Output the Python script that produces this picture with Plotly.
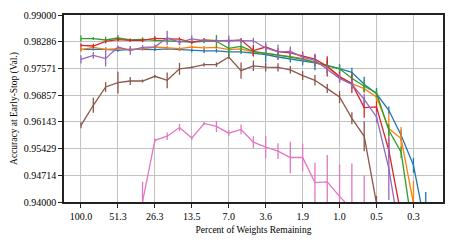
import plotly.graph_objects as go

# Tick labels (x = pruning round index; label = percent of weights remaining)
x_tick_pos = [0, 3, 6, 9, 12, 15, 18, 21, 24, 27]
x_tick_labels = ["100.0", "51.3", "26.3", "13.5", "7.0", "3.6", "1.9", "1.0", "0.5", "0.3"]
y_tick_labels = ["0.94000", "0.94714", "0.95429", "0.96143", "0.96857", "0.97571", "0.98286", "0.99000"]

blue = [0.98083, 0.98083, 0.98083, 0.98056, 0.98083, 0.98083, 0.98075, 0.98096, 0.98075, 0.98056,
        0.98043, 0.98043, 0.98016, 0.98016, 0.97989, 0.97944, 0.97877, 0.97821, 0.97775, 0.97722,
        0.97642, 0.97567, 0.97468, 0.97147, 0.96893, 0.96452, 0.95783, 0.94981, 0.93300]
blue_err = [0.0004, 0.0003, 0.0005, 0.0004, 0.0004, 0.0003, 0.0004, 0.0003, 0.0004, 0.0005,
            0.0006, 0.0005, 0.0012, 0.0006, 0.0008, 0.0020, 0.0008, 0.0009, 0.0012, 0.0020,
            0.0020, 0.0012, 0.0012, 0.0020, 0.0015, 0.0010, 0.0015, 0.0020, 0.0097]

orange = [0.98075, 0.98136, 0.98083, 0.98102, 0.98083, 0.98096, 0.98144, 0.98128, 0.98102, 0.98144,
          0.98123, 0.98136, 0.98075, 0.98096, 0.98011, 0.97976, 0.97936, 0.97896, 0.97842, 0.97735,
          0.97610, 0.97342, 0.97166, 0.97032, 0.96808, 0.95963, 0.95695, 0.93965]
orange_err = [0.0006, 0.0005, 0.0004, 0.0004, 0.0005, 0.0004, 0.0004, 0.0005, 0.0005, 0.0004,
              0.0005, 0.0004, 0.0006, 0.0005, 0.0008, 0.0007, 0.0008, 0.0008, 0.0009, 0.0010,
              0.0012, 0.0012, 0.0014, 0.0012, 0.0015, 0.0040, 0.0031, 0.0060]

green = [0.98369, 0.98369, 0.98332, 0.98385, 0.98332, 0.98350, 0.98324, 0.98305, 0.98278, 0.98278,
         0.98297, 0.98297, 0.98110, 0.98163, 0.98029, 0.97981, 0.97941, 0.97877, 0.97816, 0.97743,
         0.97655, 0.97561, 0.97307, 0.97094, 0.96914, 0.95917, 0.95329, 0.93110]
green_err = [0.0008, 0.0004, 0.0009, 0.0008, 0.0004, 0.0005, 0.0004, 0.0005, 0.0008, 0.0005,
             0.0005, 0.0017, 0.0019, 0.0016, 0.0012, 0.0009, 0.0008, 0.0008, 0.0009, 0.0009,
             0.0012, 0.0010, 0.0012, 0.0015, 0.0012, 0.0015, 0.0015, 0.0020]

red = [0.98190, 0.98171, 0.98297, 0.98342, 0.98324, 0.98324, 0.98377, 0.98369, 0.98356, 0.98270,
       0.98337, 0.98316, 0.98310, 0.98337, 0.98048, 0.98144, 0.98021, 0.97989, 0.97901, 0.97821,
       0.97628, 0.97353, 0.97166, 0.96524, 0.96545, 0.95382, 0.93644]
red_err = [0.0005, 0.0006, 0.0005, 0.0005, 0.0004, 0.0005, 0.0006, 0.0004, 0.0005, 0.0005,
           0.0005, 0.0004, 0.0005, 0.0005, 0.0016, 0.0008, 0.0008, 0.0009, 0.0012, 0.0014,
           0.0027, 0.0012, 0.0025, 0.0027, 0.0015, 0.0020, 0.0020]

purple = [0.97816, 0.97922, 0.97834, 0.98144, 0.98048, 0.98136, 0.98150, 0.98390, 0.98270, 0.98364,
          0.98316, 0.98310, 0.98324, 0.98310, 0.98310, 0.98118, 0.98016, 0.98029, 0.97874, 0.97789,
          0.97548, 0.97307, 0.97147, 0.96746, 0.96273, 0.94901, 0.92896]
purple_err = [0.0011, 0.0009, 0.0021, 0.0004, 0.0012, 0.0006, 0.0006, 0.0019, 0.0008, 0.0009,
              0.0006, 0.0006, 0.0013, 0.0006, 0.0008, 0.0016, 0.0019, 0.0013, 0.0012, 0.0015,
              0.0013, 0.0012, 0.0012, 0.0015, 0.0015, 0.0085, 0.0020]

brown = [0.96051, 0.96586, 0.97075, 0.97193, 0.97235, 0.97235, 0.97361, 0.97254, 0.97561, 0.97602,
         0.97674, 0.97674, 0.97877, 0.97513, 0.97642, 0.97607, 0.97602, 0.97535, 0.97380, 0.97254,
         0.97032, 0.96808, 0.96238, 0.95757, 0.93965]
brown_err = [0.0008, 0.0020, 0.0013, 0.0029, 0.0011, 0.0004, 0.0004, 0.0021, 0.0016, 0.0003,
             0.0005, 0.0006, 0.0005, 0.0022, 0.0014, 0.0012, 0.0011, 0.0010, 0.0012, 0.0014,
             0.0012, 0.0016, 0.0016, 0.0040, 0.0020]

pink_start = 5
pink = [0.9401, 0.9565, 0.9576, 0.9599, 0.9571, 0.9610, 0.9602, 0.9584, 0.9594, 0.9560,
        0.9547, 0.9536, 0.9519, 0.9519, 0.9452, 0.9454, 0.9415, 0.9380, 0.9360]
pink_err = [0.0053, 0.0005, 0.0010, 0.0010, 0.0005, 0.0004, 0.0015, 0.0008, 0.0013, 0.0016,
            0.0030, 0.0021, 0.0042, 0.0037, 0.0053, 0.0072, 0.0085, 0.0123, 0.0111]

series = [
    (blue, blue_err, 0, "#1f77b4"),
    (orange, orange_err, 0, "#ff7f0e"),
    (green, green_err, 0, "#2ca02c"),
    (red, red_err, 0, "#d62728"),
    (purple, purple_err, 0, "#9467bd"),
    (brown, brown_err, 0, "#8c564b"),
    (pink, pink_err, pink_start, "#e377c2"),
]

fig = go.Figure()
for vals, errs, start, col in series:
    xs = list(range(start, start + len(vals)))
    fig.add_trace(go.Scatter(
        x=xs, y=vals, mode="lines",
        line=dict(color=col, width=1.3),
        error_y=dict(type="data", array=errs, visible=True, color=col, thickness=1.3, width=0),
        showlegend=False, cliponaxis=True, hoverinfo="skip",
    ))

y_tick_vals = [float(t) for t in y_tick_labels]
font_family = "Liberation Serif, Times New Roman, serif"

fig.update_layout(
    width=457, height=244,
    margin=dict(l=64, r=14, t=15, b=42, autoexpand=False),
    paper_bgcolor="white", plot_bgcolor="white",
    font=dict(family=font_family, size=10, color="black"),
    xaxis=dict(
        range=[-1.38, 29.4], automargin=False,
        tickvals=x_tick_pos, ticktext=x_tick_labels,
        showgrid=True, gridcolor="#c2c2c2", gridwidth=1.3,
        showline=True, linecolor="#222222", linewidth=1.5, mirror=True,
        ticks="outside", ticklen=4, tickcolor="#222222", tickwidth=1.2,
        zeroline=False,
        title=dict(text="Percent of Weights Remaining", font=dict(size=9.5), standoff=6),
        tickfont=dict(size=10),
    ),
    yaxis=dict(
        range=[0.94, 0.99], automargin=False,
        tickvals=y_tick_vals, ticktext=y_tick_labels,
        showgrid=True, gridcolor="#c2c2c2", gridwidth=1.3,
        showline=True, linecolor="#222222", linewidth=1.5, mirror=True,
        ticks="outside", ticklen=4, tickcolor="#222222", tickwidth=1.2,
        zeroline=False,
        title=dict(text="Accuracy at Early-Stop (Val.)", font=dict(size=9.5), standoff=4),
        tickfont=dict(size=10),
    ),
)

fig.write_html("out.html", config={"displayModeBar": False},
               post_script="document.body.style.margin='0';")
